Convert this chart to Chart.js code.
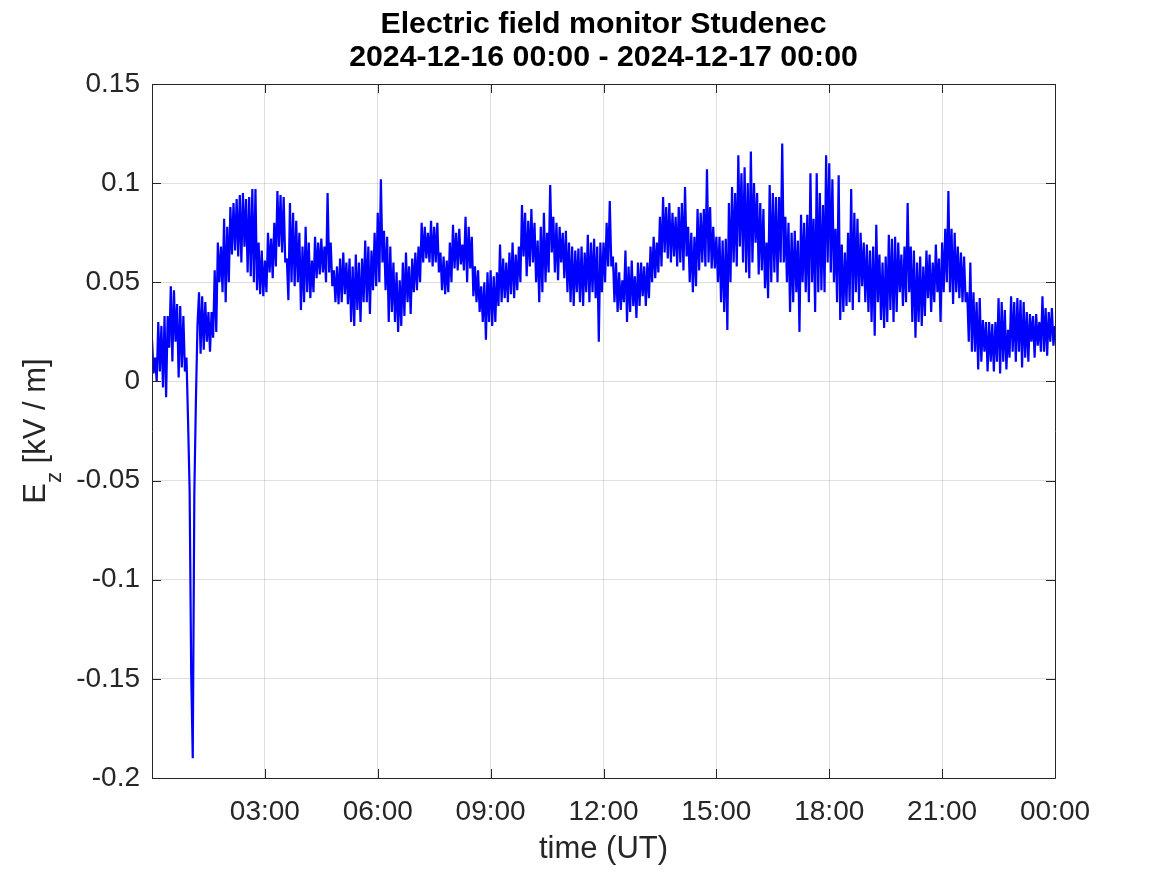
<!DOCTYPE html>
<html>
<head>
<meta charset="utf-8">
<script src="https://cdn.jsdelivr.net/npm/chart.js@4.4.1/dist/chart.umd.min.js"></script>
<style>
  html, body { margin: 0; padding: 0; background: #ffffff; }
  #wrap { width: 1167px; height: 875px; }
</style>
</head>
<body>
<div id="wrap"><canvas id="c" width="1167" height="875"></canvas></div>
<script>
// ---- Data ----
const titleLines = ['Electric field monitor Studenec', '2024-12-16 00:00 - 2024-12-17 00:00'];
const xAxisLabel = 'time (UT)';
const yAxisLabelMain = 'E';
const yAxisLabelSub = 'z';
const yAxisLabelRest = ' [kV / m]';

const sampleStepMinutes = 2.5; // one value every 2.5 minutes, starting 00:00

// E_z [kV/m], two readings per 5-minute slot, one row per hour
const ezValues = [
  // 00:00
  0.021,0.004, 0.012,0.000, 0.030,0.005, 0.028,-0.003, 0.033,-0.008, 0.033,0.017,
  0.048,0.010, 0.046,0.020, 0.039,0.002, 0.038,0.007, 0.033,0.005, 0.012,-0.020,
  // 01:00
  -0.055,-0.147, -0.190,-0.057, -0.010,0.028, 0.045,0.014, 0.043,0.016, 0.040,0.020,
  0.035,0.015, 0.035,0.022, 0.056,0.025, 0.070,0.050, 0.068,0.045, 0.082,0.040,
  // 02:00
  0.078,0.050, 0.088,0.064, 0.090,0.066, 0.092,0.063, 0.094,0.060, 0.095,0.068,
  0.092,0.055, 0.093,0.053, 0.097,0.050, 0.097,0.046, 0.070,0.044, 0.066,0.043,
  // 03:00
  0.061,0.045, 0.075,0.055, 0.072,0.052, 0.080,0.058, 0.096,0.068, 0.094,0.065,
  0.093,0.060, 0.062,0.041, 0.090,0.050, 0.085,0.048, 0.081,0.050, 0.075,0.036,
  // 04:00
  0.068,0.040, 0.078,0.045, 0.070,0.042, 0.061,0.045, 0.073,0.052, 0.070,0.054,
  0.072,0.055, 0.068,0.050, 0.095,0.055, 0.070,0.048, 0.056,0.040, 0.058,0.039,
  // 05:00
  0.062,0.040, 0.065,0.044, 0.060,0.039, 0.062,0.030, 0.058,0.028, 0.064,0.036,
  0.060,0.030, 0.062,0.040, 0.071,0.040, 0.068,0.034, 0.066,0.046, 0.075,0.048,
  // 06:00
  0.085,0.050, 0.102,0.060, 0.076,0.046, 0.073,0.030, 0.068,0.035, 0.060,0.030,
  0.055,0.025, 0.051,0.028, 0.060,0.033, 0.065,0.040, 0.058,0.034, 0.062,0.045,
  // 07:00
  0.065,0.046, 0.068,0.050, 0.080,0.060, 0.078,0.062, 0.075,0.060, 0.081,0.058,
  0.078,0.060, 0.080,0.055, 0.065,0.046, 0.063,0.044, 0.061,0.045, 0.070,0.050,
  // 08:00
  0.079,0.057, 0.075,0.056, 0.077,0.059, 0.069,0.056, 0.083,0.050, 0.078,0.057,
  0.073,0.043, 0.058,0.040, 0.056,0.035, 0.048,0.030, 0.050,0.021, 0.055,0.030,
  // 09:00
  0.056,0.028, 0.053,0.030, 0.055,0.038, 0.069,0.040, 0.062,0.042, 0.060,0.040,
  0.065,0.044, 0.070,0.042, 0.064,0.046, 0.068,0.050, 0.089,0.063, 0.085,0.053,
  // 10:00
  0.081,0.058, 0.087,0.060, 0.080,0.050, 0.071,0.040, 0.078,0.045, 0.085,0.050,
  0.075,0.055, 0.099,0.065, 0.083,0.055, 0.080,0.051, 0.078,0.060, 0.075,0.052,
  // 11:00
  0.076,0.045, 0.070,0.040, 0.068,0.038, 0.066,0.045, 0.067,0.040, 0.068,0.038,
  0.065,0.045, 0.074,0.040, 0.070,0.045, 0.072,0.042, 0.068,0.020, 0.070,0.045,
  // 12:00
  0.070,0.050, 0.080,0.058, 0.091,0.058, 0.063,0.040, 0.060,0.035, 0.055,0.036,
  0.051,0.040, 0.066,0.030, 0.058,0.035, 0.061,0.038, 0.053,0.032, 0.060,0.038,
  // 13:00
  0.060,0.043, 0.058,0.038, 0.060,0.042, 0.068,0.050, 0.073,0.052, 0.070,0.055,
  0.083,0.058, 0.093,0.065, 0.088,0.062, 0.090,0.060, 0.085,0.063, 0.083,0.058,
  // 14:00
  0.088,0.060, 0.090,0.056, 0.098,0.063, 0.078,0.050, 0.075,0.045, 0.073,0.048,
  0.087,0.056, 0.085,0.060, 0.087,0.058, 0.107,0.060, 0.088,0.057, 0.078,0.057,
  // 15:00
  0.073,0.050, 0.073,0.040, 0.071,0.035, 0.072,0.026, 0.090,0.050, 0.098,0.060,
  0.095,0.058, 0.114,0.068, 0.105,0.060, 0.108,0.055, 0.100,0.052, 0.116,0.060,
  // 16:00
  0.100,0.070, 0.095,0.054, 0.090,0.056, 0.087,0.047, 0.070,0.042, 0.099,0.050,
  0.095,0.055, 0.093,0.050, 0.093,0.060, 0.120,0.060, 0.083,0.050, 0.080,0.035,
  // 17:00
  0.075,0.040, 0.076,0.045, 0.071,0.025, 0.084,0.050, 0.080,0.045, 0.084,0.040,
  0.105,0.050, 0.082,0.035, 0.105,0.045, 0.095,0.046, 0.089,0.045, 0.114,0.060,
  // 18:00
  0.110,0.055, 0.102,0.050, 0.077,0.040, 0.104,0.031, 0.069,0.035, 0.065,0.038,
  0.075,0.040, 0.097,0.036, 0.085,0.045, 0.082,0.040, 0.075,0.048, 0.070,0.040,
  // 19:00
  0.069,0.035, 0.066,0.030, 0.068,0.023, 0.079,0.040, 0.064,0.031, 0.060,0.027,
  0.063,0.030, 0.074,0.036, 0.072,0.030, 0.073,0.035, 0.070,0.045, 0.064,0.038,
  // 20:00
  0.068,0.040, 0.090,0.045, 0.068,0.030, 0.066,0.022, 0.060,0.030, 0.063,0.028,
  0.058,0.033, 0.066,0.042, 0.064,0.035, 0.060,0.040, 0.069,0.045, 0.062,0.030,
  // 21:00
  0.070,0.045, 0.077,0.050, 0.096,0.045, 0.077,0.039, 0.075,0.045, 0.068,0.042,
  0.065,0.040, 0.063,0.040, 0.045,0.020, 0.060,0.015, 0.045,0.015, 0.040,0.006,
  // 22:00
  0.042,0.010, 0.031,0.015, 0.030,0.005, 0.030,0.010, 0.029,0.005, 0.030,0.010,
  0.042,0.004, 0.040,0.010, 0.036,0.006, 0.026,0.012, 0.043,0.015, 0.040,0.010,
  // 23:00
  0.042,0.015, 0.041,0.007, 0.040,0.012, 0.035,0.010, 0.034,0.020, 0.033,0.012,
  0.034,0.018, 0.030,0.015, 0.043,0.015, 0.037,0.013, 0.035,0.020, 0.037,0.018,
  // 24:00
  0.028
];

const xTickHours  = [0, 3, 6, 9, 12, 15, 18, 21, 24];
const xTickLabels = ['', '03:00', '06:00', '09:00', '12:00', '15:00', '18:00', '21:00', '00:00'];
const yTickValues = [-0.2, -0.15, -0.1, -0.05, 0, 0.05, 0.1, 0.15];
const yTickLabels = ['-0.2', '-0.15', '-0.1', '-0.05', '0', '0.05', '0.1', '0.15'];

// ---- Styling ----
const FONT = '"Liberation Sans", Arial, Helvetica, sans-serif';
const AXIS_COLOR = '#262626';
const GRID_COLOR = 'rgba(38,38,38,0.15)';
const LINE_COLOR = '#0000ff';

const points = ezValues.map((v, i) => ({ x: i * sampleStepMinutes / 60, y: v }));

const decorPlugin = {
  id: 'decor',
  afterDatasetsDraw(chart) {
    const { ctx, chartArea: a, scales } = chart;
    ctx.save();
    ctx.strokeStyle = AXIS_COLOR;
    ctx.lineWidth = 1;
    ctx.beginPath();
    ctx.rect(Math.round(a.left) + 0.5, Math.round(a.top) + 0.5,
             Math.round(a.right - a.left), Math.round(a.bottom - a.top));
    ctx.stroke();
    const tl = 9;
    ctx.beginPath();
    xTickHours.forEach(h => {
      const px = Math.round(scales.x.getPixelForValue(h)) + 0.5;
      ctx.moveTo(px, a.bottom); ctx.lineTo(px, a.bottom - tl);
      ctx.moveTo(px, a.top); ctx.lineTo(px, a.top + tl);
    });
    yTickValues.forEach(v => {
      const py = Math.round(scales.y.getPixelForValue(v)) + 0.5;
      ctx.moveTo(a.left, py); ctx.lineTo(a.left + tl, py);
      ctx.moveTo(a.right, py); ctx.lineTo(a.right - tl, py);
    });
    ctx.stroke();
    ctx.restore();
  },
  afterDraw(chart) {
    const { ctx, chartArea: a } = chart;
    const cx = (a.left + a.right) / 2;
    ctx.save();
    ctx.fillStyle = '#000000';
    ctx.textAlign = 'center';
    ctx.textBaseline = 'alphabetic';
    ctx.font = 'bold 30.3px ' + FONT;
    ctx.fillText(titleLines[0], cx, 33);
    ctx.fillText(titleLines[1], cx, 66);
    ctx.fillStyle = AXIS_COLOR;
    ctx.font = '31px ' + FONT;
    ctx.fillText(xAxisLabel, cx, 858);
    const cy = (a.top + a.bottom) / 2;
    ctx.translate(45, cy);
    ctx.rotate(-Math.PI / 2);
    const mainFont = '31px ' + FONT;
    const subFont = '22px ' + FONT;
    ctx.font = mainFont;
    const wE = ctx.measureText(yAxisLabelMain).width;
    const wR = ctx.measureText(yAxisLabelRest).width;
    ctx.font = subFont;
    const wZ = ctx.measureText(yAxisLabelSub).width;
    const total = wE + wZ + wR;
    const x0 = -total / 2;
    ctx.textAlign = 'left';
    ctx.font = mainFont;
    ctx.fillText(yAxisLabelMain, x0, 0);
    ctx.font = subFont;
    ctx.fillText(yAxisLabelSub, x0 + wE, 16);
    ctx.font = mainFont;
    ctx.fillText(yAxisLabelRest, x0 + wE + wZ, 0);
    ctx.restore();
  }
};

new Chart(document.getElementById('c'), {
  type: 'line',
  data: {
    datasets: [{
      data: points,
      borderColor: LINE_COLOR,
      borderWidth: 2.2,
      pointRadius: 0,
      tension: 0,
      borderJoinStyle: 'bevel',
      fill: false
    }]
  },
  options: {
    responsive: false,
    animation: false,
    layout: { padding: { left: 0, right: 112, top: 84, bottom: 0 } },
    plugins: { legend: { display: false }, title: { display: false }, tooltip: { enabled: false } },
    scales: {
      x: {
        type: 'linear',
        min: 0, max: 24,
        afterBuildTicks(scale) { scale.ticks = xTickHours.map(v => ({ value: v })); },
        afterFit(scale) { scale.height = 97; },
        ticks: {
          autoSkip: false,
          maxRotation: 0,
          padding: 17,
          color: AXIS_COLOR,
          font: { family: FONT, size: 28 },
          callback(value, index) { return xTickLabels[index]; }
        },
        grid: { color: GRID_COLOR, drawTicks: false, lineWidth: 1 },
        border: { display: false }
      },
      y: {
        type: 'linear',
        min: -0.2, max: 0.15,
        afterBuildTicks(scale) { scale.ticks = yTickValues.map(v => ({ value: v })); },
        afterFit(scale) { scale.width = 152; },
        ticks: {
          autoSkip: false,
          padding: 12,
          color: AXIS_COLOR,
          font: { family: FONT, size: 28 },
          callback(value, index) { return yTickLabels[index]; }
        },
        grid: { color: GRID_COLOR, drawTicks: false, lineWidth: 1 },
        border: { display: false }
      }
    }
  },
  plugins: [decorPlugin]
});
</script>
</body>
</html>
